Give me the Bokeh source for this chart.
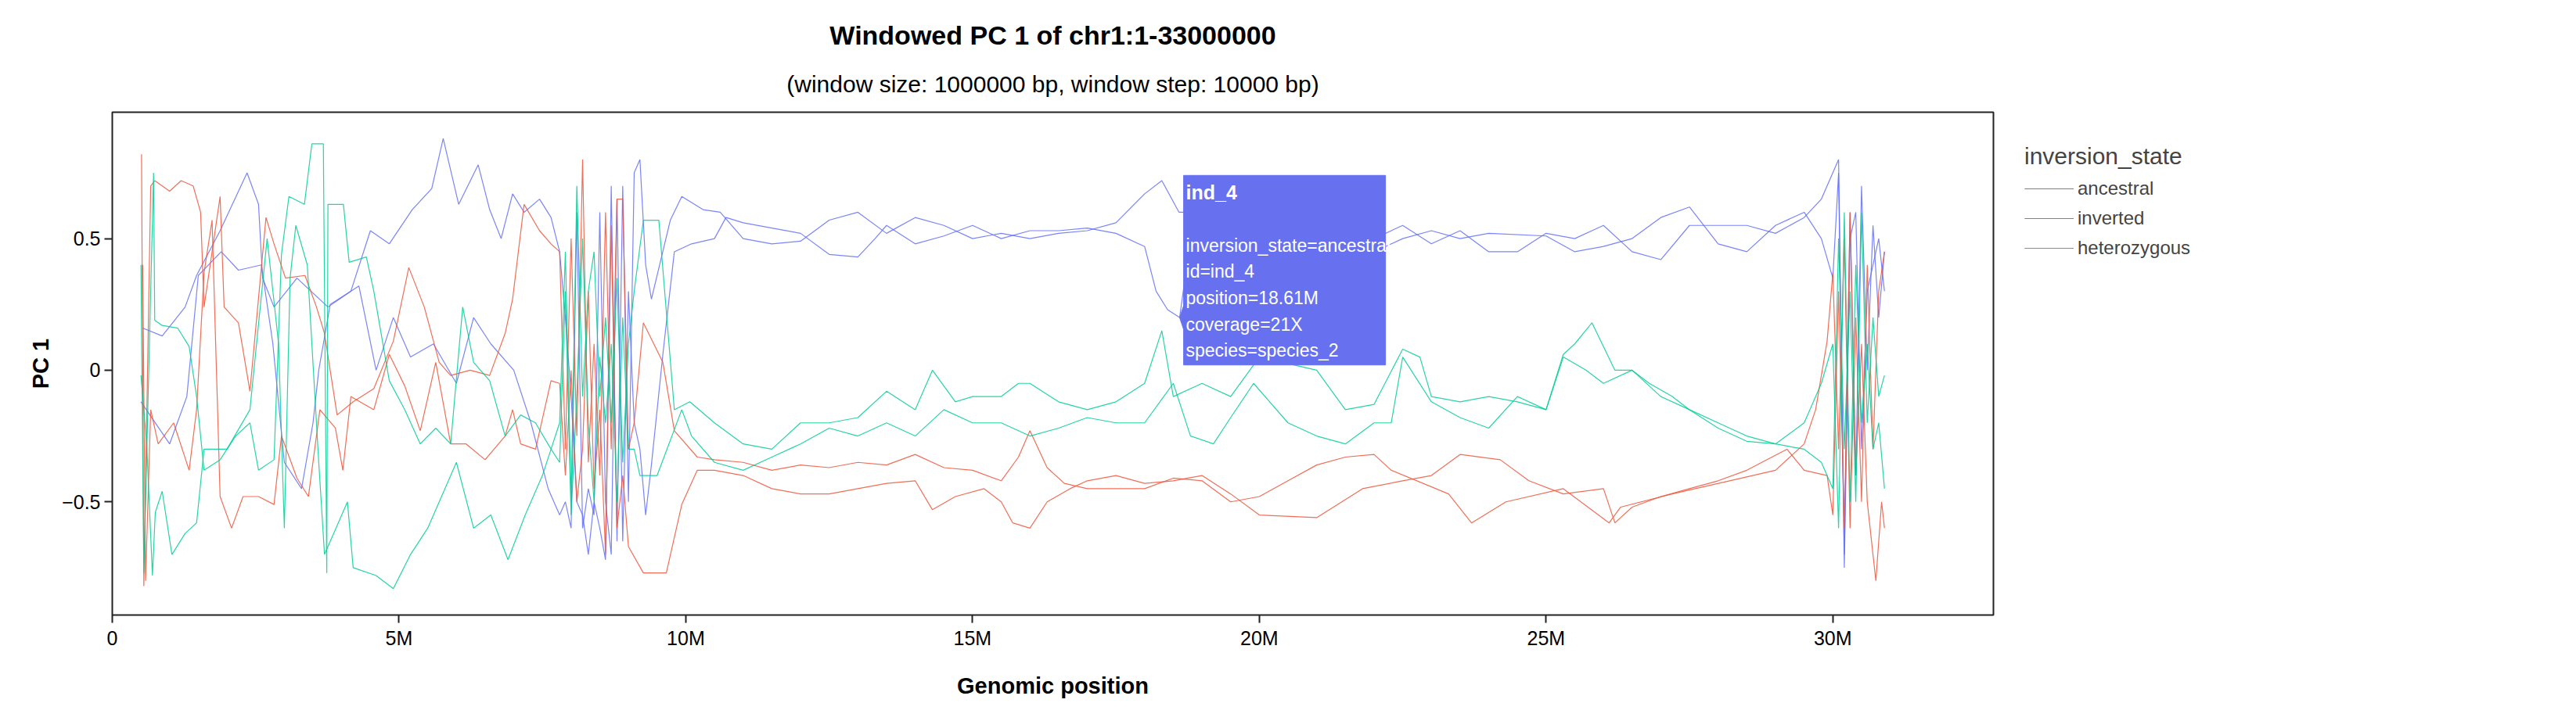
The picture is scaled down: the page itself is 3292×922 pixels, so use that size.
from bokeh.plotting import figure
from bokeh.models import Title, Legend, LegendItem, FixedTicker
from bokeh.core.properties import value
from bokeh.embed import file_html
from bokeh.resources import INLINE

# ---- data (positions in Mb, PC1 values) ----
a1_pos = [0.53,0.87,1.27,1.47,1.88,2.35,2.55,2.62,2.82,3.22,3.76,4.16,4.5,4.83,5.23,5.57,5.77,6.04,6.38,6.58,6.78,6.98,7.18,7.45,7.65,
          7.8,7.9,8.0,8.1,8.2,8.3,8.4,8.5,8.6,8.7,8.8,8.9,9.0,9.1,9.2,9.3,9.4,
          9.73,9.93,10.3,10.6,11,11.5,12,12.5,13,13.5,14,14.5,15,15.5,16,16.5,17,17.5,18,18.3,18.6,19,20,21,21.5,22,22.5,23,23.5,24,25,25.5,26,26.5,27,27.5,28,28.5,29,29.5,29.8,30.0,
          30.1,30.2,30.3,30.4,30.5,30.6,30.7,30.8,30.9]
a1_pc = [0.16,0.13,0.24,0.36,0.53,0.75,0.63,0.35,0.24,0.35,0.24,0.3,0.53,0.48,0.61,0.69,0.88,0.63,0.78,0.61,0.5,0.67,0.6,0.65,0.58,
         0.45,0.2,-0.1,-0.5,-0.55,-0.7,-0.5,-0.6,-0.72,0.7,-0.65,0.7,-0.5,0.75,0.8,0.4,0.27,
         0.57,0.66,0.61,0.6,0.5,0.48,0.49,0.57,0.6,0.52,0.58,0.55,0.5,0.52,0.5,0.52,0.53,0.56,0.67,0.72,0.6,0.6,0.55,0.6,0.52,0.45,0.5,0.53,0.5,0.52,0.51,0.45,0.47,0.5,0.58,0.62,0.48,0.45,0.55,0.6,0.5,0.35,
         0.75,-0.7,0.6,-0.4,0.7,0.0,0.55,0.2,0.45]

a2_pos = [0.5,1.0,1.3,1.5,1.9,2.2,2.6,2.8,3.0,3.3,3.5,3.6,3.8,4.3,4.6,4.9,5.2,5.6,6.0,6.3,6.6,7.0,7.3,7.6,
          7.8,7.9,8.0,8.1,8.2,8.3,8.4,8.5,8.6,8.7,8.8,8.9,9.0,9.1,9.2,9.3,9.4,
          9.6,9.8,10.1,10.5,10.7,11,11.5,12,12.5,13,13.3,13.5,14,14.5,15,15.5,16,16.5,17,17.5,18,18.2,18.4,18.61,18.8,19,20,21,21.5,22,22.5,23,23.5,24,24.5,25,25.5,26,26.5,27,27.5,28,28.5,29,29.5,29.8,
          30.1,30.2,30.3,30.4,30.5,30.6,30.7,30.8,30.9]
a2_pc = [-0.12,-0.28,-0.1,0.36,0.45,0.38,0.4,0.1,-0.35,-0.45,-0.2,0.0,0.25,0.32,0.0,0.2,0.05,0.1,-0.05,0.2,0.1,0.0,-0.2,-0.45,
         -0.55,-0.5,-0.6,0.6,-0.6,-0.45,-0.55,0.6,-0.5,-0.7,0.65,-0.65,0.3,-0.2,-0.3,-0.55,-0.36,
         0.06,0.45,0.48,0.5,0.58,0.56,0.54,0.52,0.44,0.43,0.5,0.55,0.48,0.51,0.55,0.5,0.53,0.53,0.54,0.52,0.47,0.3,0.23,0.2,0.5,0.5,0.5,0.47,0.55,0.5,0.55,0.48,0.53,0.45,0.45,0.52,0.5,0.55,0.45,0.42,0.55,0.55,0.55,0.52,0.58,0.65,
         0.8,-0.75,0.5,0.6,-0.3,0.3,0.4,0.5,0.3]

r1_pos = [0.51,0.55,0.67,0.74,1.0,1.2,1.41,1.54,1.6,1.88,1.95,2.2,2.4,2.68,2.82,3.02,3.36,3.56,3.7,3.92,4.2,4.56,4.9,5.17,5.44,5.7,5.9,6.24,6.58,6.85,6.98,7.18,7.45,7.65,
          7.8,7.9,8.0,8.1,8.2,8.3,8.4,8.5,8.6,8.7,8.8,8.9,9.0,9.1,9.26,9.6,9.8,10.2,10.5,11,11.5,12,12.5,13,13.5,14,14.5,15,15.5,15.8,16.0,16.3,16.6,17,17.5,18,18.5,19,19.5,20,
          20.5,21,21.5,22,22.3,23.3,23.7,24.3,25.3,26.1,26.3,27.2,28.2,29,29.5,29.7,29.9,30.0,
          30.1,30.2,30.3,30.4,30.5,30.6,30.7,30.8,30.9]
r1_pc = [0.82,-0.82,0.7,0.72,0.68,0.72,0.7,0.6,0.24,0.66,0.24,0.18,-0.08,0.58,0.48,0.35,0.36,0.24,0.14,-0.17,-0.12,-0.07,0.11,0.39,0.24,0.03,-0.02,0.0,-0.02,0.14,0.27,0.63,0.53,0.48,
         0.45,-0.3,0.5,-0.25,0.8,-0.35,0.1,-0.4,0.6,-0.3,0.65,0.65,-0.3,-0.2,0.18,0.03,-0.23,-0.33,-0.34,-0.35,-0.38,-0.36,-0.37,-0.35,-0.36,-0.32,-0.37,-0.38,-0.42,-0.33,-0.23,-0.37,-0.43,-0.45,-0.45,-0.45,-0.41,-0.42,-0.5,-0.48,
         -0.42,-0.36,-0.33,-0.32,-0.38,-0.47,-0.58,-0.5,-0.45,-0.58,-0.52,-0.47,-0.42,-0.38,-0.28,-0.15,0.11,0.37,
         -0.3,0.5,-0.6,0.2,-0.5,0.4,-0.3,0.3,0.45]

r2_pos = [0.53,0.58,0.67,0.8,1.07,1.34,1.47,1.6,1.74,1.88,2.08,2.28,2.55,2.82,2.95,3.22,3.42,3.62,3.89,4.02,4.16,4.56,4.83,5.1,5.37,5.64,5.9,6.17,6.5,6.85,6.98,7.12,7.38,7.65,
          7.8,7.9,8.0,8.1,8.2,8.3,8.4,8.5,8.6,8.7,8.8,8.9,9.0,9.26,9.66,9.93,10.2,10.5,11,11.5,12,12.5,13,13.5,14,14.3,14.7,15.2,15.5,15.7,16.0,16.3,16.7,17,17.5,18,18.5,19,19.5,20,
          21,21.8,22.5,23,23.5,24.2,24.7,25.3,26,26.2,26.5,27,27.5,28,28.5,29.2,29.5,29.9,30.0,
          30.1,30.2,30.3,30.4,30.5,30.6,30.75,30.85,30.9]
r2_pc = [0.4,-0.8,-0.15,-0.28,-0.2,-0.38,-0.15,0.37,0.57,-0.48,-0.6,-0.48,-0.48,-0.51,-0.25,-0.41,-0.48,-0.15,-0.22,-0.38,-0.1,-0.15,0.06,-0.06,-0.23,0.03,-0.28,-0.28,-0.34,-0.25,-0.15,-0.28,-0.3,-0.04,
         -0.05,-0.4,0.0,-0.5,-0.3,0.3,-0.45,-0.15,-0.7,0.55,-0.6,-0.4,-0.67,-0.77,-0.77,-0.51,-0.38,-0.38,-0.4,-0.45,-0.47,-0.47,-0.45,-0.43,-0.42,-0.53,-0.48,-0.45,-0.5,-0.58,-0.6,-0.5,-0.45,-0.42,-0.4,-0.43,-0.42,-0.4,-0.47,-0.55,
         -0.56,-0.45,-0.42,-0.4,-0.32,-0.34,-0.42,-0.47,-0.45,-0.58,-0.52,-0.48,-0.45,-0.42,-0.38,-0.3,-0.38,-0.4,-0.55,
         0.3,-0.6,0.6,-0.4,0.1,-0.5,-0.8,-0.5,-0.6]

g1_pos = [0.5,0.55,0.72,0.74,0.87,1.14,1.34,1.47,1.6,1.88,2.15,2.4,2.55,2.82,2.95,3.08,3.35,3.48,3.68,3.74,3.76,4.03,4.13,4.43,4.56,4.83,5.1,5.37,5.64,5.9,6.11,6.3,6.58,6.85,7.12,7.38,7.65,
          7.8,7.9,8.0,8.1,8.2,8.3,8.4,8.5,8.6,8.7,8.8,8.9,9.0,9.1,9.26,9.53,9.8,10.07,10.5,11,11.5,12,12.5,13,13.5,14,14.3,14.7,15,15.5,15.8,16,16.5,17,17.5,18,18.3,18.5,19,19.5,20,
          21,21.5,22,22.5,22.8,23,23.5,24,24.5,25,25.3,25.5,25.8,26.2,26.5,26.8,27.2,27.5,28,28.5,29,29.5,29.8,30.0,
          30.1,30.2,30.3,30.4,30.5,30.6,30.7,30.8,30.9]
g1_pc = [0.4,-0.77,0.75,0.19,0.17,0.16,0.09,-0.1,-0.38,-0.34,-0.25,-0.2,-0.38,-0.34,0.44,0.66,0.63,0.86,0.86,-0.77,0.63,0.63,0.41,0.43,0.3,-0.04,-0.15,-0.28,-0.22,-0.28,0.24,0.03,-0.04,-0.25,-0.17,-0.2,-0.3,
         -0.2,0.45,-0.5,0.7,-0.1,0.3,0.45,-0.1,0.2,-0.2,0.35,-0.35,0.1,0.3,0.57,0.57,-0.15,-0.12,-0.2,-0.28,-0.3,-0.2,-0.2,-0.18,-0.08,-0.15,0.0,-0.12,-0.1,-0.1,-0.05,-0.05,-0.12,-0.15,-0.12,-0.05,0.15,-0.1,-0.05,-0.1,0.05,
         0.0,-0.15,-0.13,0.08,0.05,-0.1,-0.12,-0.1,-0.12,-0.15,0.06,0.1,0.18,0.0,0.0,-0.05,-0.1,-0.15,-0.2,-0.25,-0.28,-0.2,-0.05,0.1,
         -0.6,0.6,-0.5,0.4,-0.2,0.1,-0.3,-0.2,-0.45]

g2_pos = [0.5,0.6,0.7,0.75,0.87,1.04,1.27,1.47,1.6,2.0,2.4,2.7,2.9,3.0,3.1,3.2,3.4,3.6,3.7,3.9,4.1,4.2,4.6,4.9,5.2,5.5,5.8,6.0,6.3,6.6,6.9,7.2,7.5,7.65,
          7.8,7.9,8.0,8.1,8.2,8.3,8.4,8.5,8.6,8.7,8.8,8.9,9.0,9.1,9.2,9.5,9.93,10.1,10.5,11,11.5,12,12.5,13,13.5,14,14.5,15,15.5,16,16.5,17,17.5,18,18.5,18.8,19.2,19.5,19.9,
          20.5,21,21.5,22,22.3,22.5,23,23.5,24,24.5,25,25.3,25.7,26.0,26.5,27,27.5,28,28.5,29,29.5,29.8,30.0,
          30.1,30.2,30.3,30.4,30.5,30.6,30.7,30.8,30.9]
g2_pc = [-0.02,-0.28,-0.78,-0.54,-0.46,-0.7,-0.62,-0.58,-0.3,-0.3,-0.15,0.5,0.1,-0.6,0.35,0.55,0.4,-0.35,-0.7,-0.6,-0.5,-0.75,-0.78,-0.83,-0.7,-0.6,-0.45,-0.35,-0.6,-0.55,-0.72,-0.55,-0.4,-0.3,
         -0.35,0.3,-0.55,-0.1,0.5,-0.2,-0.5,0.05,-0.2,0.1,-0.5,0.2,-0.3,-0.3,-0.4,-0.4,-0.15,-0.25,-0.35,-0.38,-0.33,-0.28,-0.22,-0.25,-0.2,-0.25,-0.15,-0.2,-0.2,-0.25,-0.22,-0.18,-0.2,-0.2,-0.05,-0.25,-0.28,-0.18,-0.05,
         -0.2,-0.25,-0.28,-0.2,-0.2,0.05,-0.12,-0.18,-0.22,-0.1,-0.15,0.05,0.0,-0.05,0.0,-0.1,-0.15,-0.22,-0.27,-0.28,-0.3,-0.35,-0.45,
         0.5,-0.3,0.3,-0.5,0.6,-0.2,0.2,-0.1,-0.02]

states = ["ancestral", "inverted", "heterozygous"]
colors = {"ancestral": "#636EFA", "inverted": "#EF553B", "heterozygous": "#00CC96"}
series = [("ancestral", a1_pos, a1_pc), ("ancestral", a2_pos, a2_pc),
          ("inverted", r1_pos, r1_pc), ("inverted", r2_pos, r2_pc),
          ("heterozygous", g1_pos, g1_pc), ("heterozygous", g2_pos, g2_pc)]

x_ticks = [0, 5, 10, 15, 20, 25, 30]
x_tick_labels = ["0", "5M", "10M", "15M", "20M", "25M", "30M"]
y_ticks = [-0.5, 0, 0.5]

tip_lines = ["inversion_state=ancestral", "id=ind_4", "position=18.61M", "coverage=21X", "species=species_2"]
tip_title = "ind_4"
tip_box = dict(left=18.68, right=22.2, top=0.74, bottom=0.02)
tip_anchor = (18.61, 0.2)

FONT = "Liberation Sans"

p = figure(width=3276, height=906, output_backend="svg", toolbar_location=None,
           x_range=(0, 32.8), y_range=(-0.93, 0.98),
           min_border_left=143, min_border_right=0, min_border_top=143, min_border_bottom=120)
p.add_layout(Title(text="(window size: 1000000 bp, window step: 10000 bp)", align="center", standoff=40,
                   text_font=FONT, text_font_size="30px", text_font_style="normal", text_color="#000000"), "above")
p.add_layout(Title(text="Windowed PC 1 of chr1:1-33000000", align="center",
                   text_font=FONT, text_font_size="34px", text_font_style="bold", text_color="#000000"), "above")

p.grid.visible = False
p.outline_line_color = "#222222"
p.outline_line_width = 2
p.background_fill_color = "white"

items = {}
for st, xs, ys in series:
    r = p.line(xs, ys, line_color=colors[st], line_width=1.2, line_alpha=0.85)
    items.setdefault(st, []).append(r)

# static tooltip
p.quad(left=[tip_box["left"]], right=[tip_box["right"]], top=[tip_box["top"]], bottom=[tip_box["bottom"]],
       fill_color="#6771F0", line_color="#6771F0")
ax, ay = tip_anchor
p.patch([ax, tip_box["left"], tip_box["left"]], [ay, ay + 0.045, ay - 0.045], fill_color="#6771F0", line_color="#6771F0")
tx = tip_box["left"] + 0.04
p.text([tx], [0.675], text=[tip_title], text_font=value(FONT), text_font_size="25px",
       text_font_style="bold", text_color="white", text_baseline="middle")
p.text([tx] * 5, [0.475, 0.375, 0.275, 0.175, 0.075], text=tip_lines, text_font=value(FONT),
       text_font_size="23px", text_color="white", text_baseline="middle")

p.xaxis.ticker = FixedTicker(ticks=x_ticks)
p.xaxis.major_label_overrides = {t: l for t, l in zip(x_ticks, x_tick_labels)}
p.yaxis.ticker = FixedTicker(ticks=y_ticks)
p.yaxis.major_label_overrides = {-0.5: "\u22120.5", 0: "0", 0.5: "0.5"}
for ax_ in (p.xaxis[0], p.yaxis[0]):
    ax_.axis_line_color = None
    ax_.minor_tick_line_color = None
    ax_.major_tick_line_color = "#222222"
    ax_.major_tick_line_width = 2
    ax_.major_tick_out = 10
    ax_.major_tick_in = 0
    ax_.major_label_text_font = FONT
    ax_.major_label_text_font_size = "25px"
    ax_.major_label_text_color = "#000000"
    ax_.axis_label_text_font = FONT
    ax_.axis_label_text_font_size = "29px"
    ax_.axis_label_text_font_style = "bold"
    ax_.axis_label_text_color = "#000000"
p.xaxis.axis_label = "Genomic position"
p.yaxis.axis_label = "PC 1"
p.xaxis.axis_label_standoff = 28
p.yaxis.axis_label_standoff = 8

legend = Legend(items=[LegendItem(label=s, renderers=items[s]) for s in states],
                title="inversion_state", location="top_left",
                title_text_font=FONT, title_text_font_size="30px", title_text_font_style="normal",
                label_text_font=FONT, label_text_font_size="24px",
                glyph_width=63, glyph_height=38, label_height=38, spacing=0,
                border_line_color=None, background_fill_alpha=0, margin=40, padding=10)
p.add_layout(legend, "right")

open("out.html", "w").write(file_html(p, INLINE))
